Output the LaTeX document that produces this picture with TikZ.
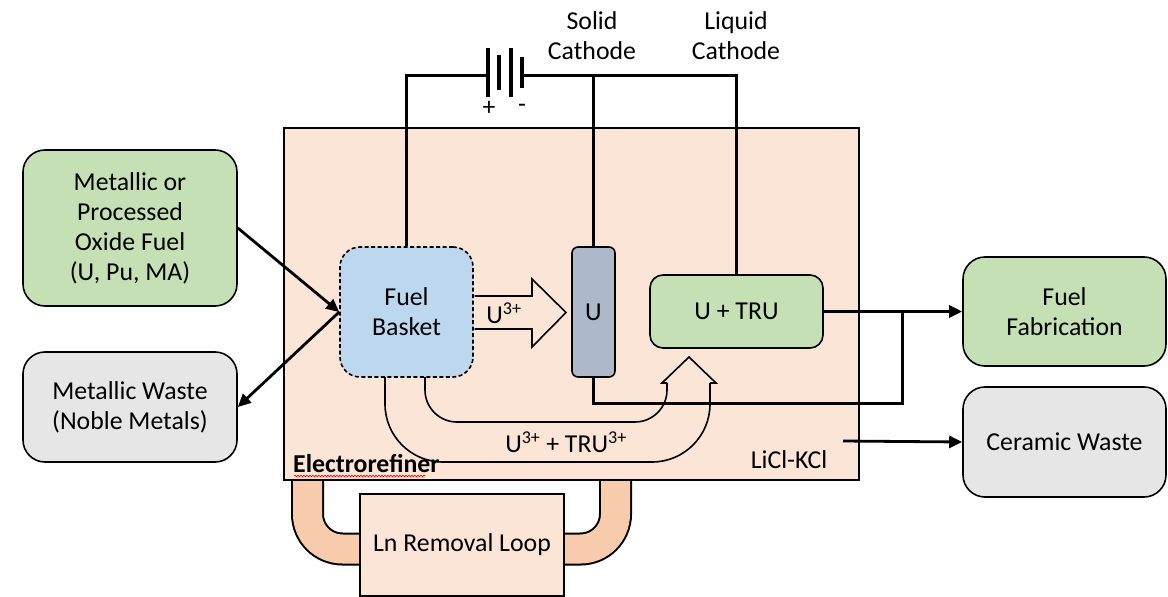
\documentclass[tikz,border=0pt]{standalone}
\usepackage{fontspec}
\setmainfont{Carlito}
\usetikzlibrary{arrows.meta,decorations.pathmorphing}
\definecolor{cgreen}{HTML}{C5E0B4}
\definecolor{cgray}{HTML}{E7E6E6}
\definecolor{cblue}{HTML}{BDD7EE}
\definecolor{cel}{HTML}{ADB9CA}
\definecolor{cpeach}{HTML}{FBE5D6}
\definecolor{cpipe}{HTML}{F8CBAD}
\newcommand\myfs{\fontsize{25.8}{30}\selectfont}
\begin{document}
\begin{tikzpicture}[x=1pt,y=-1pt,
  box/.style={draw, line width=1.6pt, rounded corners=22pt, align=center, inner sep=0pt, font=\myfs},
  lbl/.style={align=center, inner sep=0pt, font=\myfs},
  wire/.style={line width=3pt},
  arr/.style={line width=2.8pt, -{Triangle[length=13pt,width=12pt]}},
  thin/.style={line width=1.6pt}]
\useasboundingbox (0,0) rectangle (1168,597);
% pipes of the Ln removal loop
\draw[line width=33pt, rounded corners=35pt] (307.5,470) -- (307.5,549) -- (372,549);
\draw[line width=29pt, cpipe, rounded corners=35pt] (307.5,470) -- (307.5,549) -- (372,549);
\draw[line width=33pt, rounded corners=35pt] (615.5,470) -- (615.5,549) -- (552,549);
\draw[line width=29pt, cpipe, rounded corners=35pt] (615.5,470) -- (615.5,549) -- (552,549);
% electrorefiner
\node[draw, line width=1.8pt, fill=cpeach, minimum width=575pt, minimum height=352pt, inner sep=0pt] (er) at (571.5,304) {};
\node[draw, line width=1.8pt, fill=cpeach, minimum width=204pt, minimum height=102pt, inner sep=0pt, font=\myfs] (ln) at (462,545) {Ln Removal Loop};
% boxes
\node[box, fill=cgreen, minimum width=214pt, minimum height=156pt] (meta) at (130,228) {Metallic or\\Processed\\Oxide Fuel\\(U, Pu, MA)};
\node[box, fill=cgray, minimum width=214pt, minimum height=110pt] (mw) at (130,407) {Metallic Waste\\(Noble Metals)};
\node[box, fill=cblue, dash pattern=on 4pt off 2.5pt, minimum width=133pt, minimum height=130pt, rounded corners=20pt] (bk) at (406.5,312) {Fuel\\Basket};
\node[box, fill=cel, minimum width=43pt, minimum height=130pt, rounded corners=6pt] (uel) at (593.5,312) {U};
\node[box, fill=cgreen, minimum width=173pt, minimum height=73pt, rounded corners=13pt] (utru) at (736.5,311.5) {U + TRU};
\node[box, fill=cgreen, minimum width=203pt, minimum height=109pt] (ff) at (1064.5,311.5) {Fuel\\Fabrication};
\node[box, fill=cgray, minimum width=203pt, minimum height=110pt] (cw) at (1064.5,442) {Ceramic Waste};
% block arrow U3+
\draw[thin, fill=cpeach, line join=miter] (474.5,296) -- (532,296) -- (532,279) -- (566,312.5) -- (532,347) -- (532,329) -- (474.5,329);
% labels
\node[lbl] (solid) at (592,36) {Solid\\Cathode};
\node[lbl] (liquid) at (736,36) {Liquid\\Cathode};
\node[lbl] (plus) at (489,108) {+};
\node[lbl] (minus) at (522,108) {-};
\node[lbl] (u3) at (504,313) {U\textsuperscript{3+}};
\node[lbl] (utr3) at (566,442) {U\textsuperscript{3+} + TRU\textsuperscript{3+}};
\node[lbl] (licl) at (789,460) {LiCl-KCl};
\node[lbl, anchor=west, font=\myfs\bfseries] (erl) at (293,464) {Electrorefiner};
\draw[red, line width=0.6pt, decorate, decoration={snake, amplitude=0.9pt, segment length=3pt}] (294,476) -- (425,476);
% battery
\coordinate (bl) at (488,75);
\coordinate (br) at (522,75);
\draw[line width=3.2pt] (488,48) -- (488,97);
\draw[line width=3.2pt] (499,55) -- (499,90);
\draw[line width=3.2pt] (511,48) -- (511,97);
\draw[line width=3.2pt] (522,57) -- (522,88);
% wires
\draw[wire] (bk.north) -- (406.5,75) -- (bl);
\draw[wire] (br) -- (736.5,75) -- (utru.north);
\draw[wire] (593.5,75) -- (uel.north);
\coordinate (j0) at (902,311.5);
\draw[wire] (uel.south) |- (902,403) -- (j0);
\draw[arr] (utru.east) -- (ff.west);
\coordinate (lk) at (843,441);
\draw[arr] (lk) -- (cw.west);
\draw[arr] (meta.east) -- (bk.west);
\draw[arr] (bk.west) -- (mw.east);
% curved arrow
\draw[thin, rounded corners=32pt] (425,377) -- (425,422) -- (667,422) -- (667,383);
\draw[thin, line join=miter] (667,383) -- (662,383) -- (689,357) -- (716,383) -- (710,383);
\draw[thin, rounded corners=58pt] (710,383) -- (710,462) -- (385,462) -- (385,377);
\end{tikzpicture}
\end{document}
